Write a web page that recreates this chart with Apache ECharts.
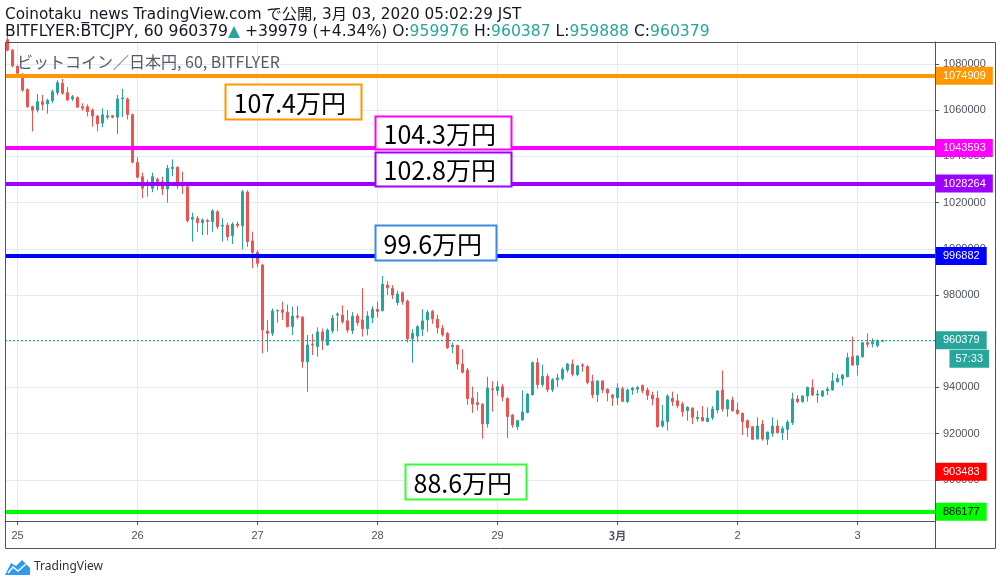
<!DOCTYPE html>
<html><head><meta charset="utf-8">
<script src="https://cdn.jsdelivr.net/npm/echarts@6/dist/echarts.min.js"></script>
<style>html,body{margin:0;padding:0;background:#fff;}#c{width:1002px;height:586px;}</style>
</head><body><div id="c"></div>
<script>
// Hourly candles, BITFLYER BTCJPY, from Feb 24 22:00 JST to Mar 3 05:00 JST
const openP = [1090500,1086000,1079000,1075500,1069000,1061500,1060100,1063700,1062700,1064100,1067600,1071600,1067600,1064900,1065400,1061500,1061500,1060100,1057500,1054400,1057000,1057600,1057000,1064900,1064900,1058100,1037400,1031200,1028000,1026200,1030100,1029100,1025900,1034800,1035300,1027800,1026900,1012800,1013200,1011300,1012300,1011800,1016000,1009800,1010200,1005700,1010700,1010000,1024600,1003400,998500,993000,964400,963400,973100,973500,972500,966300,970900,970400,951100,958800,957700,964000,958400,964500,971300,971300,968800,964500,970900,969200,965400,970200,973800,973200,984300,982900,976700,981000,977400,961000,962200,965200,969200,973000,969500,965600,963400,957600,958200,950100,947500,935400,933400,932600,924200,939400,938700,940300,935300,928000,923000,925900,929100,936800,950700,941200,944800,939000,943300,943900,947500,950100,945500,949700,949000,942700,936800,942800,939200,936700,935500,939400,933900,938900,939200,940900,938900,936700,935400,923300,925170,935270,934260,932820,929930,931080,926470,927040,925170,926900,930220,938870,930650,934550,930220,928770,925600,923000,917660,924160,917520,920120,923290,920400,921850,924730,934980,933830,936280,939890,936710,936280,938590,938880,942480,943640,944650,953300,949700,953300,959360,958790,958070,959976];
const highP = [1092000,1086500,1079500,1076000,1069500,1062000,1067000,1066600,1065000,1069000,1073000,1073500,1070000,1066600,1066000,1063000,1062500,1060800,1058000,1060800,1060000,1058000,1066600,1069200,1065500,1058500,1039600,1033000,1030000,1033000,1030800,1031200,1036300,1038700,1035800,1033400,1027500,1015600,1014200,1013200,1013000,1017100,1016800,1013200,1011300,1011500,1011800,1025500,1025300,1007400,999500,993500,969200,974200,973800,977100,975800,975000,975300,970800,962700,963100,966000,965500,965500,971300,972500,975500,973500,972600,972000,983000,973000,975200,977100,988200,986000,984300,981800,981500,978000,965200,967000,973800,973500,973500,971500,967000,964000,959300,958500,956500,948400,940300,938000,933200,944600,942700,942700,941500,935600,928500,926000,938700,937600,951200,952700,949900,946000,944000,945900,948600,950600,952100,949800,950500,949600,945500,943000,943000,939600,937200,941800,940300,939500,940300,940700,941200,940000,938150,938440,932380,937000,938150,937140,933830,931950,931370,929930,931950,931370,931950,938870,947250,934800,935990,933390,929060,926170,923290,927040,925890,920840,927040,925890,923290,925890,937720,936710,936560,940320,943490,938880,938880,940320,946380,945800,945800,955040,961960,953880,959650,963400,961240,960810,960387];
const lowP = [1085500,1078500,1075000,1068000,1061000,1050800,1059000,1060000,1058500,1063000,1066500,1066800,1064000,1064000,1061000,1059800,1057300,1052900,1050800,1052600,1056000,1056500,1049700,1057000,1056000,1037000,1030500,1022000,1022500,1024500,1025300,1023300,1020000,1031400,1025900,1023700,1011500,1003100,1007400,1006000,1006000,1007400,1008600,1003100,1003500,1002100,1009200,999800,1000800,991600,992000,954800,955500,962200,968000,969200,966000,962700,969500,948500,938100,954000,953300,956200,958000,963400,964300,967600,963700,963100,966700,962000,962500,967800,970200,972900,980000,978300,975500,975800,959400,950700,959800,962200,964100,967500,963300,962000,956600,954800,947800,946000,932400,929000,930000,917800,922600,929500,936500,934000,918000,922500,921600,925500,928800,936500,939500,940300,937900,938000,940200,943000,946500,944800,944800,946800,941300,935300,933600,937600,934000,932000,932400,933600,933200,936800,937500,937400,934550,932240,922600,922570,921270,931950,930940,927330,925600,924160,925170,925170,925000,925890,928770,929500,927330,929500,928050,919400,918670,917230,917520,916940,915070,918670,920120,917230,917230,923720,933100,933390,933830,936280,933390,935700,936710,938590,942050,940750,944360,949410,945080,952870,957340,957340,957340,959888];
const closeP = [1086000,1079200,1076000,1068700,1061500,1060000,1063700,1062500,1064300,1068000,1071900,1067300,1064400,1065800,1061300,1060800,1059400,1057500,1054100,1058000,1057600,1057000,1064900,1065300,1058100,1037500,1031000,1026200,1027500,1031200,1029100,1025900,1034800,1035300,1027200,1027200,1012200,1013600,1011300,1012500,1011800,1016400,1009600,1010200,1005200,1010700,1010000,1024700,1003100,998500,993700,964800,963400,973100,973300,972500,966300,970900,970400,951100,958400,958400,964000,960300,964800,970000,971800,968400,964800,970900,968000,965400,970900,973800,972900,984600,983100,980000,980400,977100,961000,963400,966300,968800,972500,969700,965800,962800,957200,958200,950100,946600,935100,932800,932600,924200,939700,939000,940300,935800,927300,923700,925600,929400,937100,950700,941200,944800,939000,943300,944100,947800,950100,945700,949300,949300,942100,936800,942800,939000,937600,935500,939700,934000,938900,939700,940000,938600,936600,935000,923000,925450,936280,933830,932090,929500,931370,927040,927040,925600,926750,930650,938440,930650,934550,929930,928770,925170,922570,917520,923290,917660,920690,923290,920400,922140,925020,934980,933830,936280,940030,936710,937140,938440,939310,942770,943920,945370,952870,949700,953600,959360,958640,959800,960230,960379];

const firstMidnightIndex = 2;
const totalSlots = 186;
const dayLabels = ['25','26','27','28','29','3月','2','3'];

const priceLines = [1074909, 1043593, 1028264, 996882, 886177];
const priceLineColors = ['#ff9800', '#ff00ff', '#9c00ff', '#0000ff', '#00ff00'];
const priceLabelText = ['#ffffff', '#ffffff', '#ffffff', '#ffffff', '#000000'];
const alertPrice = 903483;
const lastPrice = 960379;
const countdown = '57:33';

const annoText = ['107.4万円', '104.3万円', '102.8万円', '99.6万円', '88.6万円'];
const annoIndex = [44, 74, 74, 74, 80];
const annoPrice = [1071342, 1057360, 1041905, 1010433, 906840];
const annoColor = ['#ff9800', '#ff00ff', '#9c00ff', '#3d8be0', '#33ff33'];
const annoW = [136, 136, 136, 121, 121];
const annoH = [35, 33, 34, 35, 35];

const headerLine1 = 'Coinotaku_news TradingView.com で公開, 3月 03, 2020 05:02:29 JST';
const symbolText = 'BITFLYER:BTCJPY, 60';
const changeText = '+39979 (+4.34%)';
const legendText = 'ビットコイン／日本円, 60, BITFLYER';

const UP = '#26a69a', DOWN = '#ef5350', AX = '#50535e', GRID = '#e1ecf2';

const cats = [];
for (let i = 0; i < totalSlots; i++) cats.push('s' + i);
const isMidnight = (i) => i >= firstMidnightIndex && (i - firstMidnightIndex) % 24 === 0;
const candleData = openP.map((o, i) => [o, closeP[i], lowP[i], highP[i]]);

const lblFont = 'Liberation Sans';
function priceLabel(bg, fg, text) {
  return { show: true, position: 'end', distance: 1, formatter: text, color: fg, backgroundColor: bg,
    padding: [3, 7, 2, 7], fontSize: 11, lineHeight: 13, fontFamily: lblFont };
}
const mlData = priceLines.map((p, k) => ({
  yAxis: p,
  lineStyle: { color: priceLineColors[k], width: 4, type: 'solid', opacity: 1 },
  label: priceLabel(priceLineColors[k], priceLabelText[k], String(p))
}));
mlData.push({ yAxis: alertPrice, lineStyle: { color: 'rgba(255,0,0,0)', width: 1, type: 'solid' }, label: priceLabel('#ff0000', '#ffffff', String(alertPrice)) });
mlData.push({ yAxis: lastPrice, lineStyle: { color: UP, width: 1, type: [2, 2] }, label: priceLabel(UP, '#ffffff', String(lastPrice)) });

const chart = echarts.init(document.getElementById('c'), null, { renderer: 'canvas' });
chart.setOption({
  animation: false,
  backgroundColor: '#ffffff',
  grid: { left: 5, right: 67, top: 42, bottom: 65, containLabel: false },
  xAxis: {
    type: 'category', data: cats, boundaryGap: true,
    axisLine: { show: true, lineStyle: { color: AX } },
    axisTick: { show: true, interval: (i) => isMidnight(i), alignWithLabel: true, length: 4, lineStyle: { color: AX } },
    axisLabel: {
      interval: 0, color: '#4c525e', fontSize: 11, fontFamily: lblFont, margin: 9,
      formatter: (v, i) => {
        if (!isMidnight(i)) return '';
        const t = dayLabels[(i - firstMidnightIndex) / 24];
        return t === '3月' ? '{b|' + t + '}' : t;
      },
      rich: { b: { fontWeight: 'bold', fontSize: 11, color: '#4c525e', fontFamily: 'Noto Sans CJK JP' } }
    },
    splitLine: { show: true, interval: (i) => isMidnight(i), alignWithLabel: true, lineStyle: { color: GRID, width: 1 } }
  },
  yAxis: {
    type: 'value', position: 'right', scale: true,
    min: 882165, max: 1089524, splitNumber: 10, minInterval: 20000, maxInterval: 20000,
    axisLine: { show: true, lineStyle: { color: AX } },
    axisTick: { show: true, length: 4, lineStyle: { color: AX } },
    axisLabel: { color: '#4c525e', fontSize: 11, fontFamily: lblFont, margin: 8, showMinLabel: false, showMaxLabel: false,
      formatter: (v) => String(Math.round(v)) },
    splitLine: { show: true, lineStyle: { color: GRID, width: 1 } }
  },
  series: [{
    type: 'candlestick', data: candleData, barWidth: 3, clip: true,
    itemStyle: { color: UP, color0: DOWN, borderColor: UP, borderColor0: DOWN, borderWidth: 1 },
    markLine: { silent: true, symbol: ['none', 'none'], animation: false, data: mlData }
  }]
});

const g = [];
// frame
g.push({ type: 'rect', z: 100, silent: true, shape: { x: 5.5, y: 42.5, width: 990, height: 506 }, style: { fill: 'none', stroke: AX, lineWidth: 1 } });
g.push({ type: 'line', z: 100, silent: true, shape: { x1: 935.5, y1: 521, x2: 935.5, y2: 549 }, style: { stroke: AX, lineWidth: 1 } });
// annotation boxes
annoText.forEach((t, k) => {
  const p = chart.convertToPixel({ xAxisIndex: 0, yAxisIndex: 0 }, [annoIndex[k], annoPrice[k]]);
  const x = Math.round(p[0] - 2.5) + 0.5, y = Math.round(p[1]) + 0.5;
  g.push({ type: 'rect', z: 100, silent: true, shape: { x: x, y: y, width: annoW[k], height: annoH[k] },
    style: { fill: '#ffffff', stroke: annoColor[k], lineWidth: 2 } });
  g.push({ type: 'text', z: 101, silent: true, x: x + 8, y: y + annoH[k] / 2 + 1,
    style: { text: t, fill: '#000000', font: '25px "Noto Sans CJK JP"', verticalAlign: 'middle', align: 'left' } });
});
// countdown box under the last price label
const lp = chart.convertToPixel({ yAxisIndex: 0 }, lastPrice);
g.push({ type: 'text', z: 101, silent: true, x: 989, y: lp + 9.5,
  style: { text: countdown, fill: '#ffffff', backgroundColor: UP, padding: [3, 6, 2, 6], font: '11px "Liberation Sans"', lineHeight: 13, align: 'right', verticalAlign: 'top' } });
// header
g.push({ type: 'text', z: 101, silent: true, x: 5, y: 15,
  style: { text: headerLine1, fill: '#131722', font: '15.25px "DejaVu Sans", "Noto Sans CJK JP"', verticalAlign: 'middle' } });
const n = openP.length - 1;
const h2 = '{k|' + symbolText + ' ' + closeP[n] + '}{t|▲}{k| ' + changeText + ' O:}{t|' + openP[n] + '}{k| H:}{t|' + highP[n] +
  '}{k| L:}{t|' + lowP[n] + '}{k| C:}{t|' + closeP[n] + '}';
const f2 = '15.6px "DejaVu Sans"';
g.push({ type: 'text', z: 101, silent: true, x: 5, y: 32,
  style: { text: h2, verticalAlign: 'middle', font: f2,
    rich: { k: { fill: '#131722', font: f2 }, t: { fill: UP, font: f2 } } } });
g.push({ type: 'text', z: 101, silent: true, x: 17, y: 62,
  style: { text: legendText, fill: '#555a66', font: '16px "Noto Sans CJK JP"', verticalAlign: 'middle' } });
// TradingView logo
g.push({ type: 'polygon', z: 101, silent: true, shape: { points: [[5, 575], [11, 563], [16, 566], [22, 560], [30, 568], [30, 575]] }, style: { fill: '#2e9bf0' } });
g.push({ type: 'polyline', z: 102, silent: true, shape: { points: [[8, 573], [13, 567], [18, 571], [26, 564]] }, style: { stroke: '#ffffff', lineWidth: 1.5, fill: 'none' } });
g.push({ type: 'text', z: 101, silent: true, x: 34, y: 567,
  style: { text: 'TradingView', fill: '#333333', font: '12px "Noto Sans"', verticalAlign: 'middle' } });
chart.setOption({ graphic: g });
</script>
</body></html>
